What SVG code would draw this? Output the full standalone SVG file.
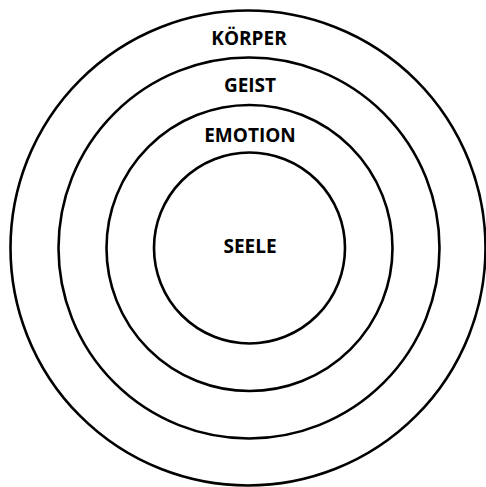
<svg xmlns="http://www.w3.org/2000/svg" width="486" height="487" viewBox="0 0 486 487">
<style>
.ring{fill:none;stroke:#000;stroke-width:2.6}
.lbl{font-family:"Open Sans","DejaVu Sans",sans-serif;font-weight:bold;font-size:19px;fill:#000;text-anchor:middle}
</style>
<rect width="486" height="487" fill="#fff"/>
<g id="koerper"><circle class="ring" cx="248" cy="248" r="237.5"/><text class="lbl" x="249" y="45">KÖRPER</text></g>
<g id="geist"><circle class="ring" cx="249" cy="248" r="190.5"/><text class="lbl" x="250" y="92">GEIST</text></g>
<g id="emotion"><circle class="ring" cx="249.5" cy="248" r="143"/><text class="lbl" x="250" y="142">EMOTION</text></g>
<g id="seele"><circle class="ring" cx="249.5" cy="248" r="95.5"/><text class="lbl" x="250" y="253">SEELE</text></g>
<g id="connectors"/>
</svg>
